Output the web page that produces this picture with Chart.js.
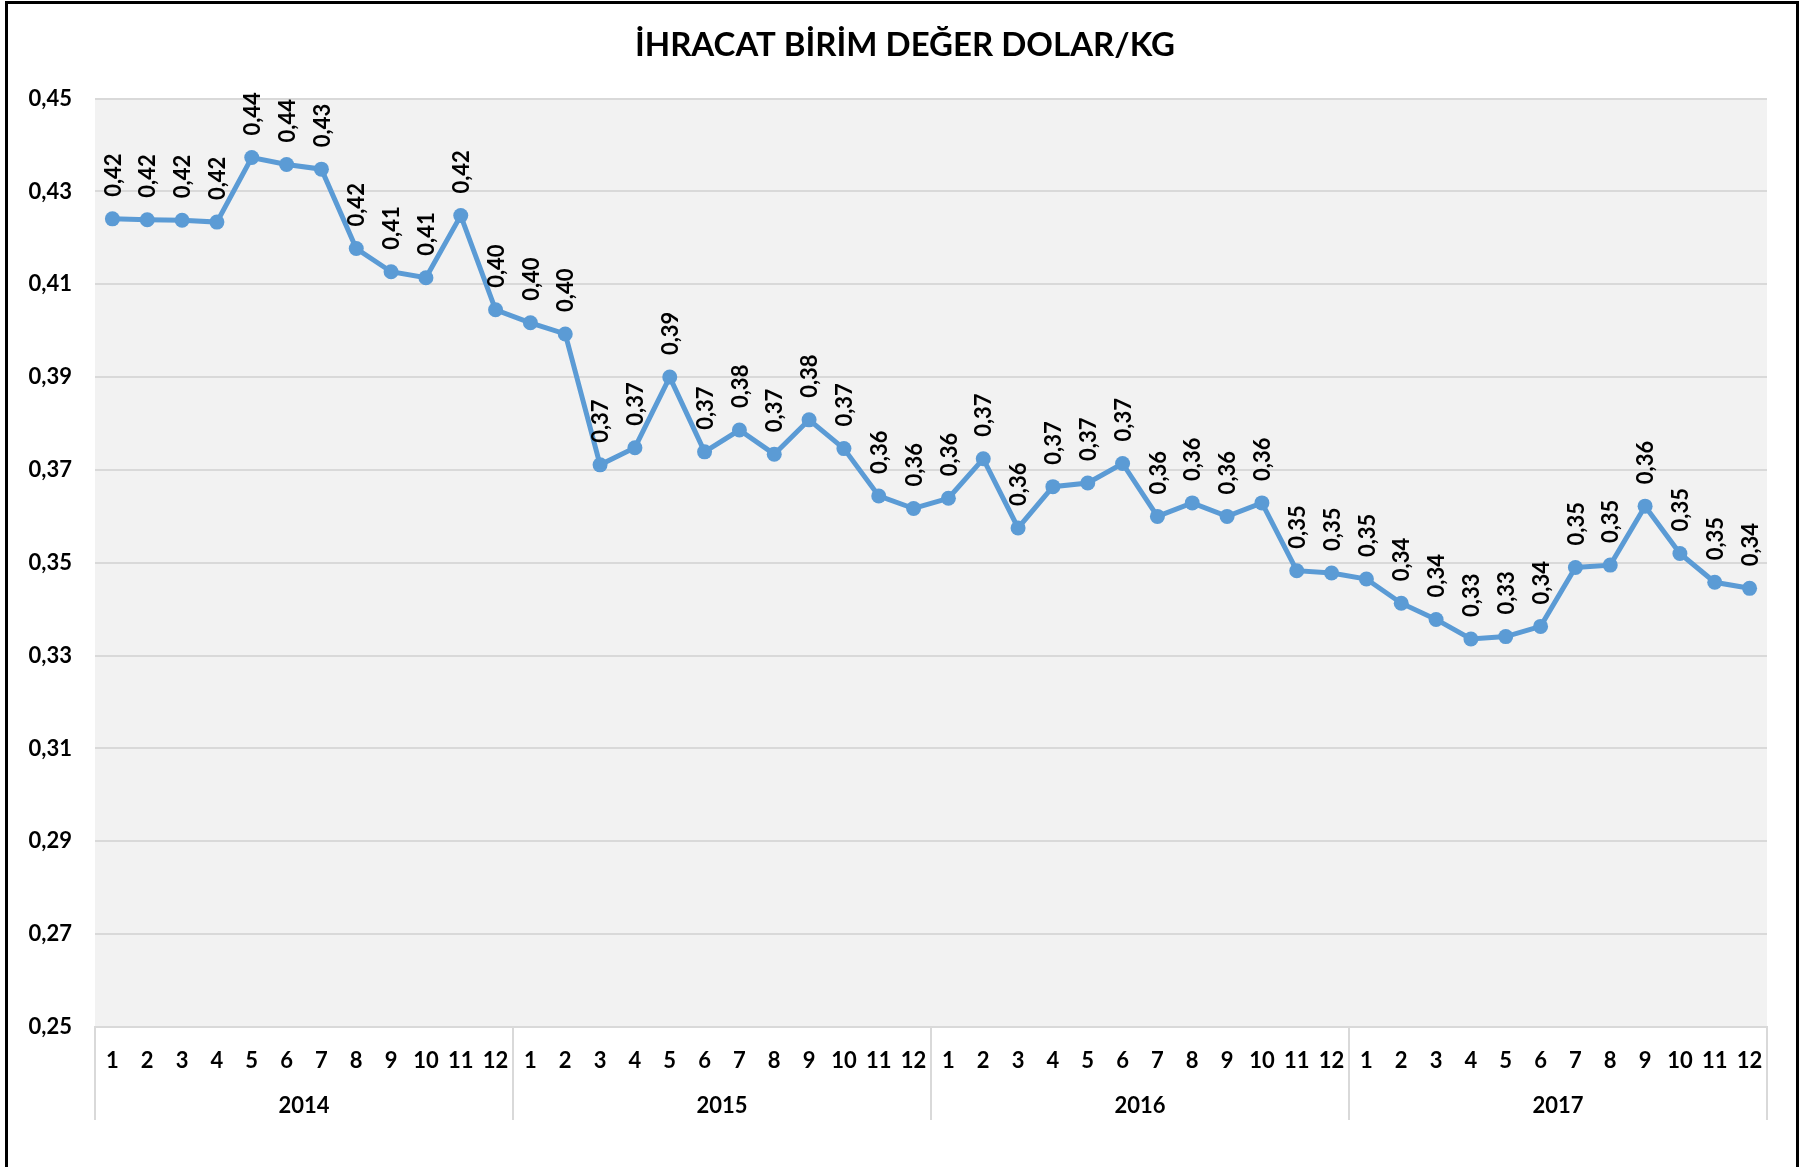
<!DOCTYPE html>
<html>
<head>
<meta charset="utf-8">
<script src="https://cdn.jsdelivr.net/npm/chart.js@4.4.1/dist/chart.umd.min.js"></script>
<style>
  html, body { margin: 0; padding: 0; background: #ffffff; }
  #wrap { position: relative; width: 1810px; height: 1167px; }
  canvas { display: block; }
</style>
</head>
<body>
<div id="wrap"><canvas id="c" width="1810" height="1167"></canvas></div>
<script>
const chartTitle = 'İHRACAT BİRİM DEĞER DOLAR/KG';
const years = ['2014', '2015', '2016', '2017'];
const months = ['1','2','3','4','5','6','7','8','9','10','11','12'];
const values2014 = [0.4241, 0.4239, 0.4238, 0.4234, 0.4373, 0.4358, 0.4348, 0.4177, 0.4127, 0.4114, 0.4248, 0.4045];
const values2015 = [0.4017, 0.3993, 0.3711, 0.3748, 0.3900, 0.3739, 0.3786, 0.3734, 0.3808, 0.3746, 0.3644, 0.3617];
const values2016 = [0.3639, 0.3724, 0.3575, 0.3664, 0.3672, 0.3714, 0.3600, 0.3629, 0.3600, 0.3629, 0.3483, 0.3478];
const values2017 = [0.3465, 0.3413, 0.3378, 0.3336, 0.3341, 0.3363, 0.3490, 0.3495, 0.3622, 0.3520, 0.3458, 0.3445];
const yMin = 0.25, yMax = 0.45, yStep = 0.02;

const categoryLabels = [].concat(months, months, months, months);
const seriesValues = [].concat(values2014, values2015, values2016, values2017);

const FONT = 'Lato, "Open Sans", sans-serif';
const fmt = v => Number(v).toFixed(2).replace('.', ',');

const plotBg = {
  id: 'plotBg',
  beforeDraw(chart) {
    const { ctx, chartArea: a } = chart;
    ctx.save();
    ctx.fillStyle = '#f2f2f2';
    ctx.fillRect(a.left, a.top, a.right - a.left, a.bottom - a.top);
    ctx.restore();
  }
};

const extras = {
  id: 'extras',
  afterDatasetsDraw(chart) {
    const { ctx } = chart;
    const meta = chart.getDatasetMeta(0);
    ctx.save();
    ctx.fillStyle = '#000';
    ctx.font = 'bold 22px ' + FONT;
    ctx.textAlign = 'left';
    ctx.textBaseline = 'middle';
    meta.data.forEach((pt, i) => {
      ctx.save();
      ctx.translate(pt.x + 1, pt.y - 22);
      ctx.rotate(-Math.PI / 2);
      ctx.fillText(fmt(seriesValues[i]), 0, 0);
      ctx.restore();
    });
    ctx.restore();
  },
  afterDraw(chart) {
    const { ctx, chartArea: a } = chart;
    const xs = chart.scales.x;
    ctx.save();
    ctx.strokeStyle = '#d9d9d9';
    ctx.lineWidth = 2;
    for (let k = 0; k <= years.length; k++) {
      const x = Math.round(xs.getPixelForValue(k * 12 - 0.5));
      ctx.beginPath();
      ctx.moveTo(x, a.bottom);
      ctx.lineTo(x, a.bottom + 93);
      ctx.stroke();
    }
    ctx.fillStyle = '#000';
    ctx.font = 'bold 22px ' + FONT;
    ctx.textAlign = 'center';
    ctx.textBaseline = 'middle';
    years.forEach((y, k) => {
      ctx.fillText(y, xs.getPixelForValue(k * 12 + 5.5), a.bottom + 79);
    });
    ctx.strokeStyle = '#000';
    ctx.lineWidth = 3;
    ctx.beginPath();
    ctx.moveTo(6.5, 1167);
    ctx.lineTo(6.5, 2.5);
    ctx.lineTo(1797.5, 2.5);
    ctx.lineTo(1797.5, 1167);
    ctx.stroke();
    ctx.restore();
  }
};

new Chart(document.getElementById('c'), {
  type: 'line',
  data: {
    labels: categoryLabels,
    datasets: [{
      data: seriesValues,
      borderColor: '#5b9bd5',
      backgroundColor: '#5b9bd5',
      borderWidth: 5,
      pointRadius: 7.5,
      pointBorderWidth: 0,
      pointBackgroundColor: '#5b9bd5',
      tension: 0,
      fill: false
    }]
  },
  options: {
    responsive: false,
    animation: false,
    devicePixelRatio: 1,
    layout: { padding: 0 },
    plugins: {
      legend: { display: false },
      tooltip: { enabled: false },
      title: {
        display: true,
        text: chartTitle,
        color: '#000',
        font: { family: FONT, size: 33, weight: 'bold' },
        padding: { top: 26, bottom: 33 }
      }
    },
    scales: {
      x: {
        type: 'category',
        offset: true,
        grid: { display: false },
        border: { display: true, color: '#d9d9d9', width: 2 },
        ticks: {
          color: '#000',
          font: { family: FONT, size: 22, weight: 'bold' },
          padding: 13,
          maxRotation: 0,
          minRotation: 0,
          autoSkip: false
        },
        afterFit(scale) { scale.height = 140; }
      },
      y: {
        min: yMin,
        max: yMax,
        grid: { color: '#d9d9d9', lineWidth: 2, drawTicks: false },
        border: { display: false },
        ticks: {
          stepSize: yStep,
          color: '#000',
          font: { family: FONT, size: 22, weight: 'bold' },
          padding: 23,
          callback: v => fmt(v)
        },
        afterFit(scale) { scale.width = 95; }
      },
      yRight: {
        type: 'linear',
        position: 'right',
        display: true,
        min: yMin,
        max: yMax,
        grid: { display: false, drawOnChartArea: false },
        border: { display: false },
        ticks: { display: false },
        afterFit(scale) { scale.width = 43; }
      }
    }
  },
  plugins: [plotBg, extras]
});
</script>
</body>
</html>
